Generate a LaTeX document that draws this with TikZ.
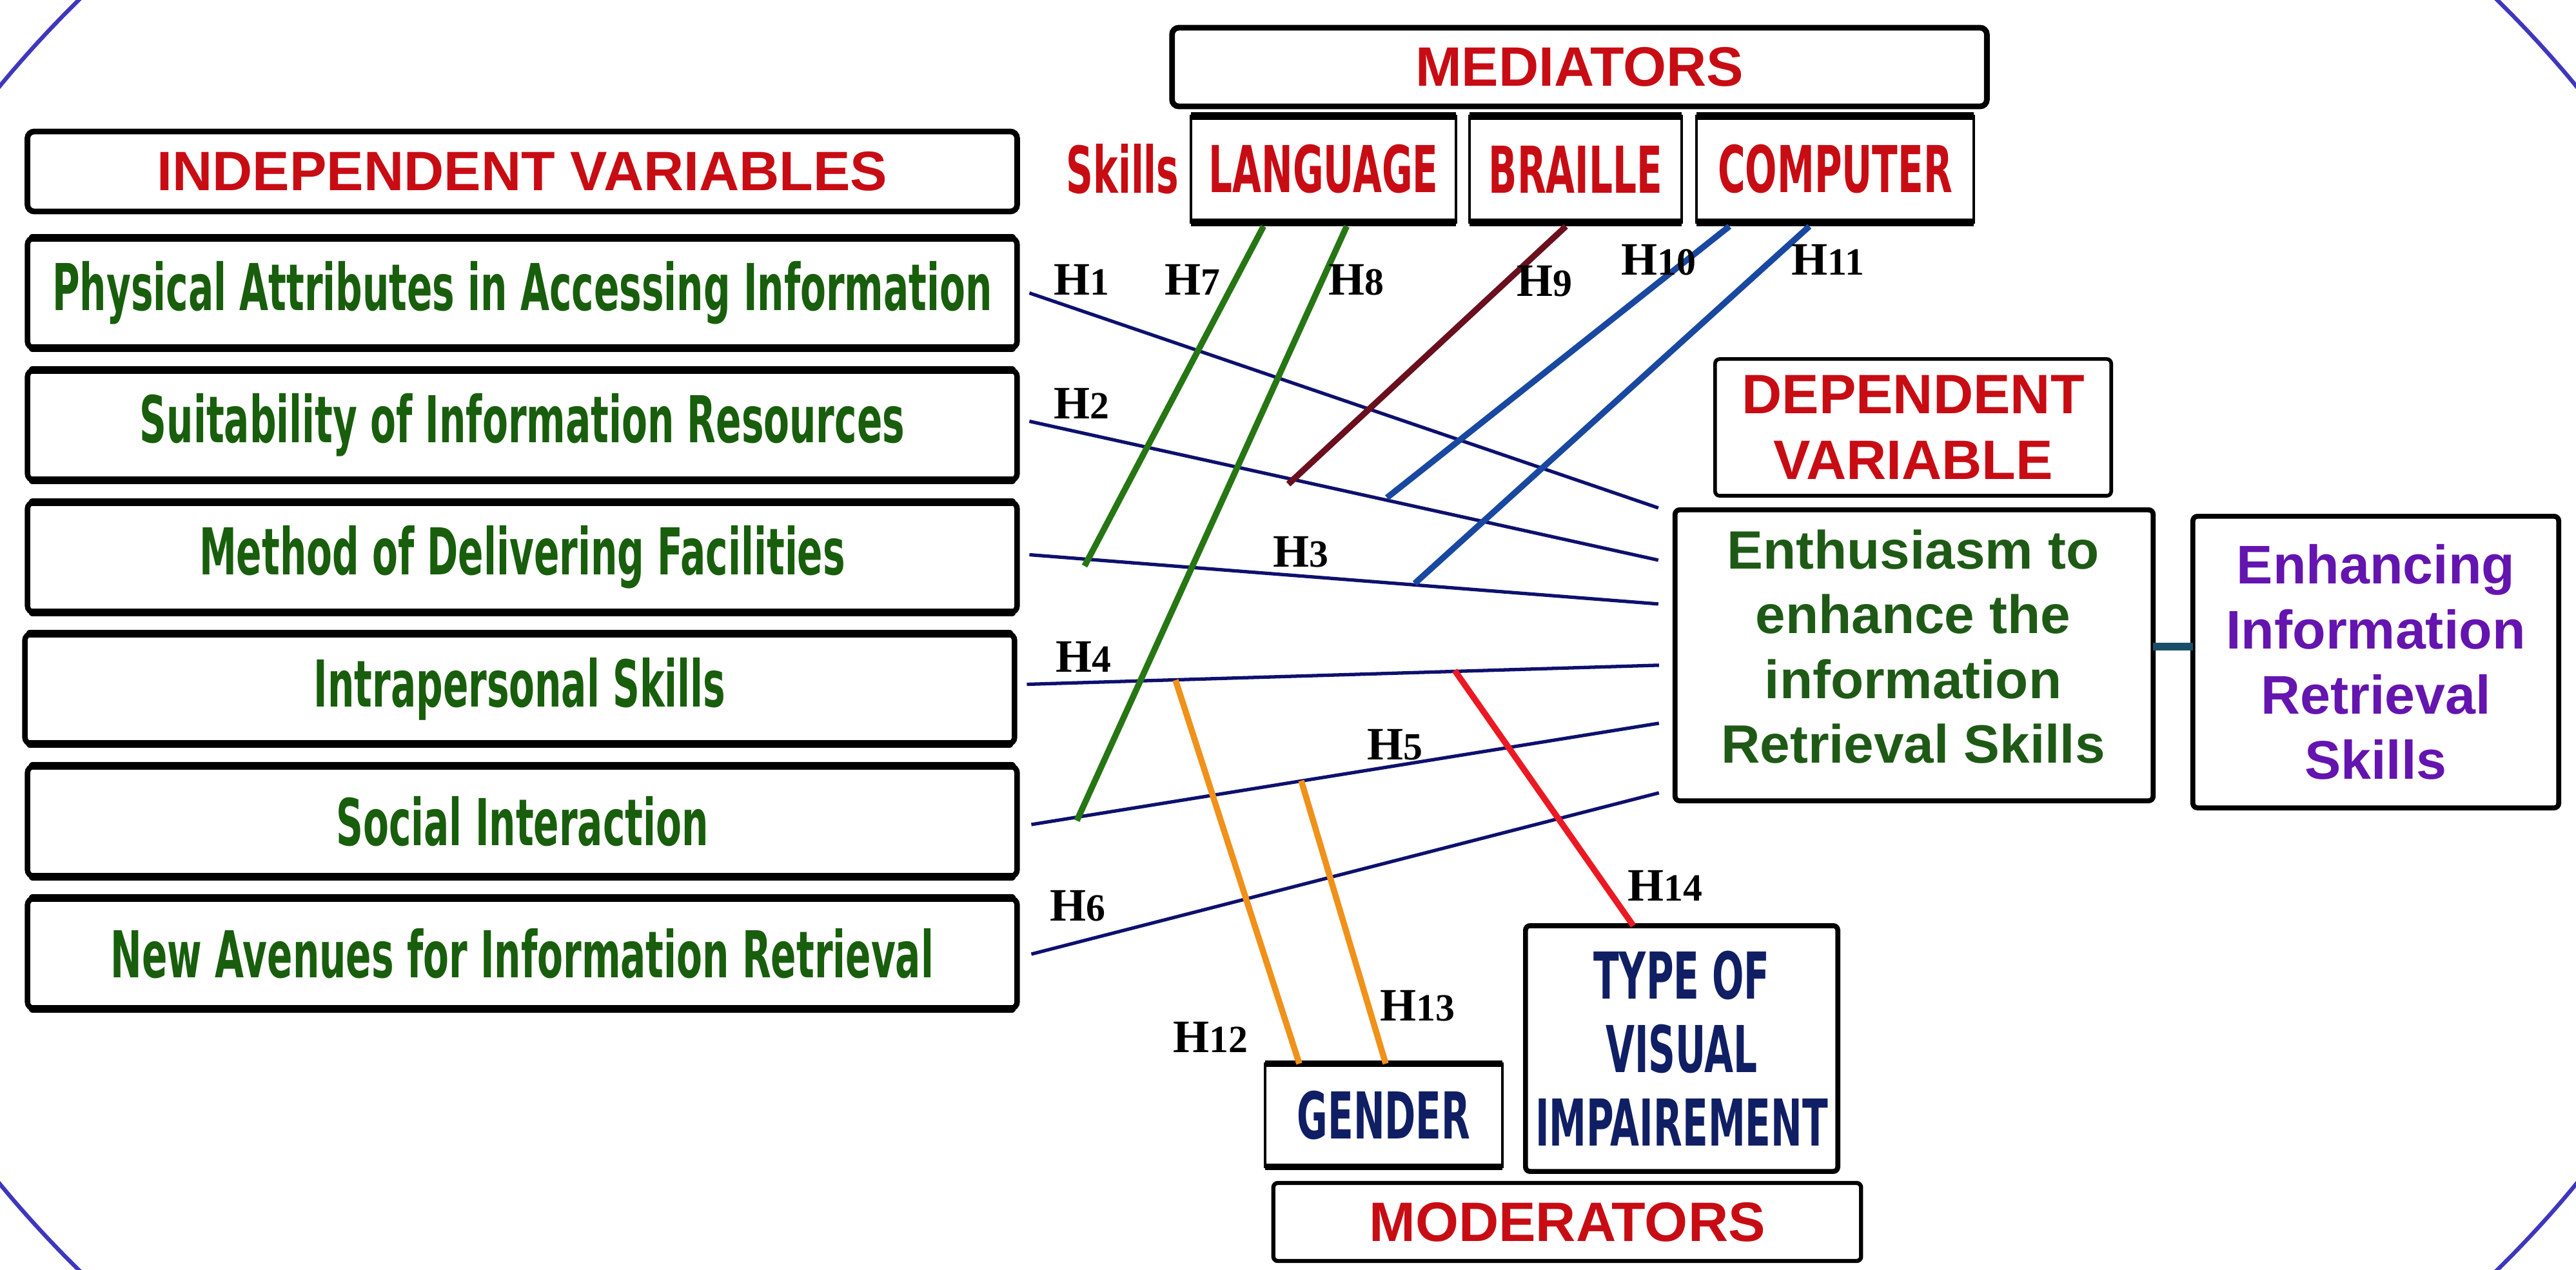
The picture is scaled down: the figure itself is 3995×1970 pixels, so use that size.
\documentclass[tikz,border=0pt]{standalone}
\usepackage{fontspec}
\setmainfont{Liberation Sans}
\newfontfamily\agencyfont[FakeStretch=0.58]{DejaVu Sans}
\newfontfamily\labfont{Liberation Serif}
\usetikzlibrary{calc}

\definecolor{ivgreen}{RGB}{24,94,12}
\definecolor{hdrred}{RGB}{200,12,20}
\definecolor{dvgreen}{RGB}{30,90,22}
\definecolor{enhpurple}{RGB}{100,20,175}
\definecolor{modnavy}{RGB}{16,30,100}
\definecolor{hnavy}{RGB}{14,16,110}
\definecolor{lgreen}{RGB}{38,118,20}
\definecolor{lmaroon}{RGB}{105,15,30}
\definecolor{lblue}{RGB}{25,72,160}
\definecolor{lorange}{RGB}{240,145,25}
\definecolor{lred}{RGB}{235,25,35}
\definecolor{lteal}{RGB}{25,78,105}
\definecolor{rimblue}{RGB}{62,55,190}

\newcommand\hlab[1]{{\fontsize{20.5pt}{24pt}\selectfont H}{\fontsize{17pt}{20pt}\selectfont #1}}

\tikzset{
  every node/.style={inner sep=0pt,outer sep=0pt},
  agy/.style={font=\agencyfont\bfseries\fontsize{28.5pt}{34pt}\selectfont},
  hdr/.style={font=\bfseries\fontsize{24.5pt}{29pt}\selectfont},
  ivbox/.style={draw=black,line width=2.4pt,rounded corners=3pt,fill=white,
     minimum width=15.34cm,minimum height=1.71cm,text=ivgreen,agy},
  hdrbox/.style={draw=black,line width=2.5pt,rounded corners=3pt,fill=white,text=hdrred,hdr},
  skbox/.style={draw=black,line width=1pt,fill=white,minimum height=1.65cm,text=hdrred,agy},
  bar/.style={line width=3.4pt},
  plainbox/.style={draw=black,line width=2.2pt,rounded corners=2pt,fill=white},
  hline/.style={hnavy,line width=1.5pt},
  mline/.style={line width=2.7pt},
  hl/.style={font=\labfont\bfseries}
}

\begin{document}
\begin{tikzpicture}[x=0.01cm,y=-0.01cm]
\fill[white] (0,0) rectangle (3995,1970);
\useasboundingbox (0,0) rectangle (3995,1970);
\begin{scope}
\clip (0,0) rectangle (3995,1970);
\draw[rimblue,line width=1.8pt] (1997.5,985) ellipse [x radius=23.2cm, y radius=16.7cm];
\end{scope}

% independent variables
\node[hdrbox,minimum width=15.34cm,minimum height=1.24cm] (indep) at (810,266) {INDEPENDENT VARIABLES};
\node[ivbox] (phys) at (810,454.5) {Physical Attributes in Accessing Information};
\node[ivbox] (suit) at (810,659.5) {Suitability of Information Resources};
\node[ivbox] (meth) at (810,864.5) {Method of Delivering Facilities};
\node[ivbox] (intra) at (806,1068.5) {Intrapersonal Skills};
\node[ivbox] (soc) at (810,1274) {Social Interaction};
\node[ivbox] (newav) at (810,1479) {New Avenues for Information Retrieval};
\foreach \n in {phys,suit,meth,intra,soc,newav}{
  \draw[line width=3.4pt,line cap=round] ($(\n.north west)+(8,0)$) -- ($(\n.north east)+(-8,0)$);
  \draw[line width=3.4pt,line cap=round] ($(\n.south west)+(8,0)$) -- ($(\n.south east)+(-8,0)$);
}

% mediators
\node[hdrbox,minimum width=12.63cm,minimum height=1.22cm] (med) at (2449.5,104) {MEDIATORS};
\node[agy,text=hdrred] (skills) at (1741,262) {Skills};
\node[skbox,minimum width=4.11cm] (lang) at (2052.5,262.5) {LANGUAGE};
\node[skbox,minimum width=3.29cm] (brl) at (2443.5,262.5) {BRAILLE};
\node[skbox,minimum width=4.30cm] (cmp) at (2846,262.5) {COMPUTER};
\foreach \n in {lang,brl,cmp}{
  \draw[bar] (\n.north west) -- (\n.north east);
  \draw[bar] (\n.south west) -- (\n.south east);
}

% dependent
\node[plainbox,line width=1.6pt,minimum width=6.14cm,minimum height=2.12cm,text=hdrred,hdr,align=center] (dep) at (2967,663) {DEPENDENT\\VARIABLE};
\node[plainbox,minimum width=7.41cm,minimum height=4.51cm] (enth) at (2968.5,1016.5) {};
\node[text=dvgreen,font=\bfseries\fontsize{23.8pt}{28.5pt}\selectfont,align=center] (enthtxt) at (2967,1003) {Enthusiasm to\\enhance the\\information\\Retrieval Skills};
\node[plainbox,minimum width=5.67cm,minimum height=4.52cm,text=enhpurple,font=\bfseries\fontsize{24pt}{28.7pt}\selectfont,align=center] (enh) at (3684.5,1027) {Enhancing\\Information\\Retrieval\\Skills};
\draw[lteal,line width=3.2pt] (enth.east |- 0,1003) -- (enh.west |- 0,1003);

% moderators
\node[plainbox,minimum width=4.84cm,minimum height=3.81cm,text=modnavy,font=\agencyfont\bfseries\fontsize{28.5pt}{32.5pt}\selectfont,align=center] (type) at (2608,1626.5) {TYPE OF\\VISUAL\\IMPAIREMENT};
\node[draw=black,line width=1.3pt,fill=white,minimum width=3.68cm,minimum height=1.6cm,text=modnavy,agy] (gend) at (2146,1730) {GENDER};
\draw[line width=2.6pt] (gend.north west) -- (gend.north east);
\draw[line width=2.6pt] (gend.south west) -- (gend.south east);
\node[plainbox,line width=1.8pt,minimum width=9.11cm,minimum height=1.21cm,text=hdrred,hdr] (mod) at (2430.5,1895.5) {MODERATORS};

% hypothesis lines to dependent variable
\draw[hline] ($(phys.east)+(19,0)$) -- ($(enth.north west)+(-26,-3)$);
\draw[hline] ($(suit.east)+(19,-6)$) -- ($(enth.north west)+(-26,78)$);
\draw[hline] ($(meth.east)+(19,-4)$) -- ($(enth.north west)+(-26,146)$);
\draw[hline] ($(intra.east)+(19,-7)$) -- ($(enth.north west)+(-25,241)$);
\draw[hline] ($(soc.east)+(22,5)$) -- ($(enth.north west)+(-25,331)$);
\draw[hline] ($(newav.east)+(22,1)$) -- ($(enth.north west)+(-25,439)$);

% mediator lines
\coordinate (e7) at (1682,878);
\coordinate (e8) at (1670,1273);
\coordinate (e9) at (1998,751);
\coordinate (e10) at (2151,772);
\coordinate (e11) at (2194,905);
\draw[mline,lgreen] ($(lang.south)+(-93,6)$) -- (e7);
\draw[mline,lgreen] ($(lang.south)+(36,6)$) -- (e8);
\draw[mline,lmaroon] ($(brl.south)+(-15,6)$) -- (e9);
\draw[mline,lblue] ($(cmp.south)+(-164,6)$) -- (e10);
\draw[mline,lblue] ($(cmp.south)+(-40,6)$) -- (e11);

% moderator lines
\coordinate (s12) at (1823,1055);
\coordinate (s13) at (2018,1211);
\coordinate (s14) at (2256,1040);
\draw[mline,lorange] (s12) -- ($(gend.north)+(-131,0)$);
\draw[mline,lorange] (s13) -- ($(gend.north)+(3,0)$);
\draw[mline,lred] (s14) -- ($(type.north)+(-75,0)$);

% labels
\node[hl] (lh1) at (1677,434) {\hlab{1}};
\node[hl] (lh7) at (1849,434) {\hlab{7}};
\node[hl] (lh8) at (2103,434) {\hlab{8}};
\node[hl] (lh9) at (2395,436) {\hlab{9}};
\node[hl] (lh10) at (2572,403) {\hlab{10}};
\node[hl] (lh11) at (2835,403) {\hlab{11}};
\node[hl] (lh2) at (1677,626) {\hlab{2}};
\node[hl] (lh3) at (2017,856) {\hlab{3}};
\node[hl] (lh4) at (1680,1019) {\hlab{4}};
\node[hl] (lh5) at (2163,1155) {\hlab{5}};
\node[hl] (lh6) at (1671,1405) {\hlab{6}};
\node[hl] (lh12) at (1877,1609) {\hlab{12}};
\node[hl] (lh13) at (2198,1560) {\hlab{13}};
\node[hl] (lh14) at (2582,1374) {\hlab{14}};
\end{tikzpicture}
\end{document}
